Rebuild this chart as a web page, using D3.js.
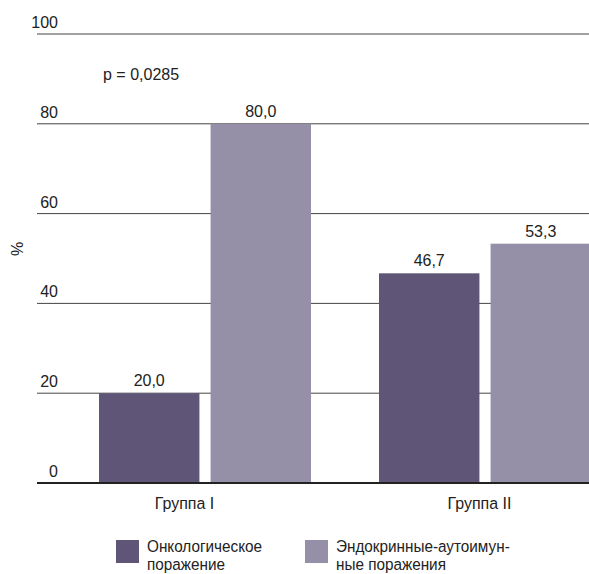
<!DOCTYPE html>
<html lang="ru">
<head>
<meta charset="UTF-8">
<title>Группы</title>
<style>
  body { margin: 0; background: #fff; }
  text { font-family: "Liberation Sans Narrow", "Arial Narrow", "Liberation Sans", sans-serif; fill: #222; }
</style>
</head>
<body>
<svg id="chart" width="589" height="574"></svg>
<script src="https://d3js.org/d3.v7.min.js"></script>
<script>
// data
const groups = ["Группа I", "Группа II"];
const series = ["Онкологическое поражение", "Эндокринные-аутоимунные поражения"];
const oncology = [20.0, 46.7];
const endocrine = [80.0, 53.3];
const yTicks = [0, 20, 40, 60, 80, 100];
const legendLines = [["Онкологическое", "поражение"], ["Эндокринные-аутоимун-", "ные поражения"]];
const colors = ["#5f5677", "#968fa8"];

const svg = d3.select("#chart");
const plotLeft = 37, plotTop = 34, plotBottom = 483;

// labels sit on one band scale, bar pairs on a slightly tighter one
const xLab = d3.scaleBand().domain(groups).range([plotLeft, 627]);
const x0 = d3.scaleBand().domain(groups).range([65, 625]);
const x1 = d3.scaleBand().domain(series).range([0, 212]).paddingInner(0.1);
const y = d3.scaleLinear().domain([0, 100]).range([plotBottom, plotTop]);
const pairOffset = (x0.bandwidth() - 212) / 2;

// gridlines + tick labels
const grid = svg.append("g");
grid.selectAll("line").data(yTicks).join("line")
    .attr("x1", plotLeft).attr("x2", 589)
    .attr("y1", d => y(d)).attr("y2", d => y(d))
    .attr("stroke", d => d === 0 ? "#222" : "#444")
    .attr("stroke-width", d => d === 0 ? 2 : 1);
grid.selectAll("text").data(yTicks).join("text")
    .attr("x", 58)
    .attr("y", d => y(d) - 6)
    .attr("text-anchor", "end")
    .style("font-size", "16px")
    .text(d => d);

// bars
const rows = groups.map((g, i) => ({ group: g, values: [oncology[i], endocrine[i]] }));
const gg = svg.selectAll("g.grp").data(rows).join("g")
    .attr("class", "grp")
    .attr("transform", d => `translate(${x0(d.group) + pairOffset},0)`);
gg.selectAll("rect").data(d => d.values.map((v, j) => ({ s: series[j], v, j }))).join("rect")
    .attr("x", d => x1(d.s))
    .attr("width", x1.bandwidth())
    .attr("y", d => y(d.v))
    .attr("height", d => y(0) - y(d.v))
    .attr("fill", d => colors[d.j]);
gg.selectAll("text").data(d => d.values.map((v, j) => ({ s: series[j], v }))).join("text")
    .attr("x", d => x1(d.s) + x1.bandwidth() / 2)
    .attr("y", d => y(d.v) - 7)
    .attr("text-anchor", "middle")
    .style("font-size", "16px")
    .text(d => d.v.toFixed(1).replace(".", ","));

// redraw baseline over bars
svg.append("line")
    .attr("x1", plotLeft).attr("x2", 589)
    .attr("y1", y(0)).attr("y2", y(0))
    .attr("stroke", "#222").attr("stroke-width", 2);

// group labels
svg.selectAll("text.glab").data(groups).join("text")
    .attr("class", "glab")
    .attr("transform", d => `translate(${xLab(d) + xLab.bandwidth() / 2},509) scale(0.94,1)`)
    .attr("text-anchor", "middle")
    .style("font-size", "17px")
    .text(d => d);

// p-value
svg.append("text").attr("x", 103).attr("y", 80).style("font-size", "16px").text("p = 0,0285");

// y-axis title
svg.append("text")
    .attr("transform", "translate(23,249) rotate(-90)")
    .attr("text-anchor", "middle")
    .style("font-size", "16px")
    .text("%");

// legend
const legX = [116, 305];
const leg = svg.selectAll("g.leg").data(series).join("g")
    .attr("class", "leg")
    .attr("transform", (d, i) => `translate(${legX[i]},540)`);
leg.append("rect").attr("width", 23).attr("height", 23).attr("fill", (d, i) => colors[i]);
leg.each(function (d, i) {
    const t = d3.select(this).append("text")
        .attr("transform", "translate(31,12) scale(0.9,1)")
        .style("font-size", "17px");
    legendLines[i].forEach((ln, k) => t.append("tspan").attr("x", 0).attr("dy", k === 0 ? 0 : 18).text(ln));
});
</script>
</body>
</html>
